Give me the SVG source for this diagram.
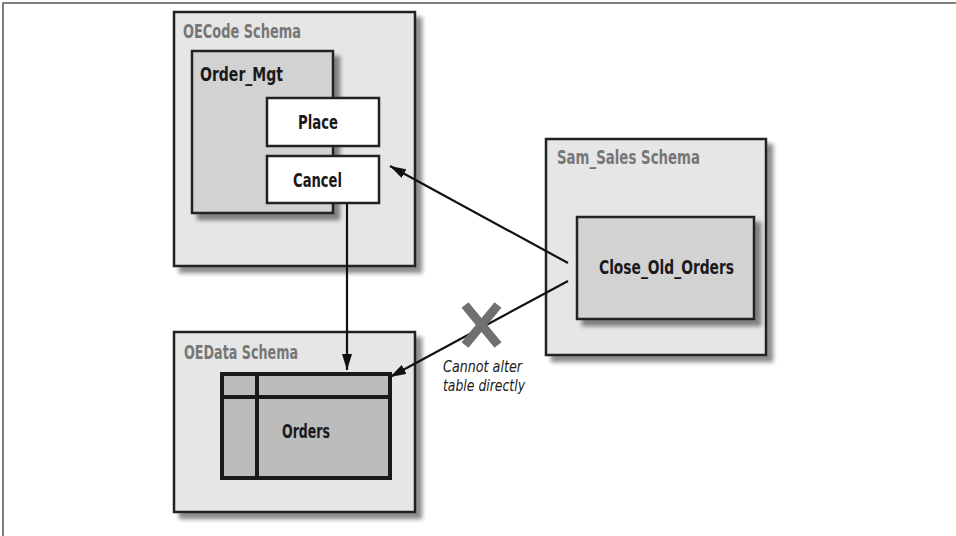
<svg xmlns="http://www.w3.org/2000/svg" width="956" height="536" viewBox="0 0 956 536">
<defs>
<filter id="sh" x="-10%" y="-10%" width="130%" height="130%">
<feGaussianBlur in="SourceAlpha" stdDeviation="2"/>
<feOffset dx="6" dy="6" result="b"/>
<feComponentTransfer><feFuncA type="linear" slope="0.45"/></feComponentTransfer>
<feMerge><feMergeNode/><feMergeNode in="SourceGraphic"/></feMerge>
</filter>
<marker id="ah" viewBox="0 0 16 10" refX="16" refY="5" markerWidth="16" markerHeight="10" markerUnits="userSpaceOnUse" orient="auto">
<path d="M0,0 L16,5 L0,10 Z" fill="#111"/>
</marker>
</defs>
<style>
.schema{fill:#e6e6e6;stroke:#222;stroke-width:2.5}
.pkg{fill:#d2d2d3;stroke:#222;stroke-width:2.5}
.proc{fill:#fff;stroke:#222;stroke-width:2.5}
.stitle{font-family:"Liberation Sans Narrow","DejaVu Sans Condensed","Liberation Sans",sans-serif;font-weight:bold;font-size:19px;fill:#777}
.lbl{font-family:"Liberation Sans Narrow","DejaVu Sans Condensed","Liberation Sans",sans-serif;font-weight:bold;font-size:19px;fill:#1a1a1a}
.note{font-family:"Liberation Sans Narrow","DejaVu Sans Condensed","Liberation Sans",sans-serif;font-style:italic;font-size:16.5px;fill:#1a1a1a}
.conn{stroke:#111;stroke-width:2.2;fill:none}
</style>
<g id="frame"><path d="M3,536 L3,3 L956,3" fill="none" stroke="#555" stroke-width="1.5"/></g>
<g id="oecode">
<rect class="schema" x="174" y="12" width="241" height="254" filter="url(#sh)"/>
<text class="stitle" x="183" y="38" textLength="118" lengthAdjust="spacingAndGlyphs">OECode Schema</text>
</g>
<g id="order_mgt">
<rect class="pkg" x="192" y="51" width="141" height="162" filter="url(#sh)"/>
<text class="lbl" x="200" y="81" textLength="83" lengthAdjust="spacingAndGlyphs">Order_Mgt</text>
</g>
<g id="place">
<rect class="proc" x="267" y="98" width="112" height="48"/>
<text class="lbl" x="298" y="129" textLength="40" lengthAdjust="spacingAndGlyphs">Place</text>
</g>
<g id="cancel">
<rect class="proc" x="267" y="156" width="112" height="47"/>
<text class="lbl" x="293" y="187" textLength="49" lengthAdjust="spacingAndGlyphs">Cancel</text>
</g>
<g id="oedata">
<rect class="schema" x="174" y="332" width="241" height="180" filter="url(#sh)"/>
<text class="stitle" x="184" y="359" textLength="114" lengthAdjust="spacingAndGlyphs">OEData Schema</text>
</g>
<g id="orders">
<rect x="222" y="374" width="168" height="104" fill="#bcbcbd" stroke="#1a1a1a" stroke-width="4"/>
<line x1="222" y1="397" x2="390" y2="397" stroke="#1a1a1a" stroke-width="4"/>
<line x1="257" y1="374" x2="257" y2="478" stroke="#1a1a1a" stroke-width="4"/>
<text class="lbl" x="282" y="438" textLength="48" lengthAdjust="spacingAndGlyphs">Orders</text>
</g>
<g id="sam_sales">
<rect class="schema" x="546" y="139" width="220" height="216" filter="url(#sh)"/>
<text class="stitle" x="557" y="164" textLength="143" lengthAdjust="spacingAndGlyphs">Sam_Sales Schema</text>
</g>
<g id="close_old_orders">
<rect class="pkg" x="577" y="217" width="177" height="102" filter="url(#sh)"/>
<text class="lbl" x="599" y="274" textLength="135" lengthAdjust="spacingAndGlyphs">Close_Old_Orders</text>
</g>
<g id="connectors">
<line class="conn" x1="568" y1="263" x2="390" y2="166" marker-end="url(#ah)"/>
<line class="conn" x1="568" y1="281" x2="390" y2="377" marker-end="url(#ah)"/>
<line class="conn" x1="347" y1="203" x2="347" y2="370" marker-end="url(#ah)"/>
</g>
<g id="blocked">
<path d="M465,305 L498,345 M498,305 L465,345" stroke="#707070" stroke-width="9" fill="none"/>
<text class="note" x="443" y="372" textLength="79" lengthAdjust="spacingAndGlyphs">Cannot alter</text>
<text class="note" x="443" y="391" textLength="82" lengthAdjust="spacingAndGlyphs">table directly</text>
</g>
</svg>
